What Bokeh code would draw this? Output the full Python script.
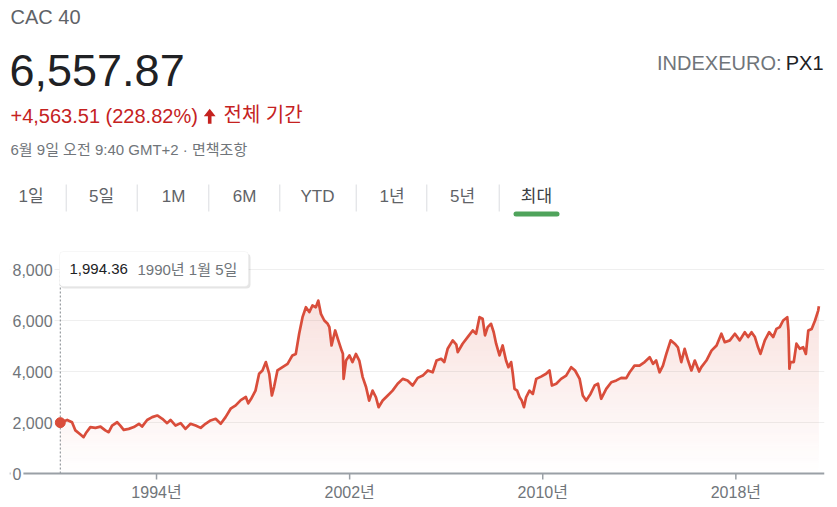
import numpy as np
import pandas as pd
from bokeh.plotting import figure
from bokeh.models import (Range1d, FixedTicker, Label, Span,
                          BoxAnnotation, PolyAnnotation, Grid)
from bokeh.embed import file_html
from bokeh.resources import INLINE

# ---------------- data ----------------
years = [1990.013, 1990.3, 1990.5, 1990.64, 1990.85, 1990.98, 1991.1, 1991.26, 1991.47,
         1991.68, 1991.88, 1992.02, 1992.16, 1992.37, 1992.5, 1992.64, 1992.85, 1993.06,
         1993.27, 1993.4, 1993.61, 1993.82, 1994.03, 1994.24, 1994.44, 1994.58, 1994.79,
         1995.0, 1995.2, 1995.41, 1995.62, 1995.83, 1996.03, 1996.24, 1996.45, 1996.66,
         1996.86, 1997.07, 1997.28, 1997.49, 1997.7, 1997.8, 1997.92,
         1998.1, 1998.25, 1998.39, 1998.53, 1998.67, 1998.78, 1998.87, 1999.01, 1999.22,
         1999.43, 1999.63, 1999.77, 1999.91, 2000.05, 2000.19, 2000.33, 2000.46, 2000.6,
         2000.7, 2000.81, 2000.95, 2001.09, 2001.16, 2001.25, 2001.4, 2001.53, 2001.67,
         2001.72, 2001.75, 2001.85, 2001.99, 2002.12, 2002.26, 2002.4, 2002.54, 2002.68,
         2002.81, 2002.95, 2003.09, 2003.2, 2003.37, 2003.58, 2003.78, 2003.99, 2004.2,
         2004.4, 2004.61, 2004.82, 2005.03, 2005.24, 2005.44, 2005.6, 2005.79, 2005.92,
         2006.06, 2006.27, 2006.42, 2006.48, 2006.68, 2006.89, 2007.1, 2007.24, 2007.38,
         2007.51, 2007.61, 2007.72, 2007.86, 2007.97, 2008.07, 2008.21, 2008.34, 2008.48,
         2008.58, 2008.69, 2008.76, 2008.83, 2008.94, 2009.04, 2009.13, 2009.22, 2009.31,
         2009.45, 2009.59, 2009.73, 2009.93, 2010.14, 2010.28, 2010.38, 2010.56, 2010.76,
         2010.97, 2011.18, 2011.34, 2011.53, 2011.66, 2011.8, 2011.98, 2012.15, 2012.29,
         2012.42, 2012.63, 2012.84, 2013.05, 2013.25, 2013.46, 2013.6, 2013.7, 2013.8,
         2014.01, 2014.22, 2014.43, 2014.57, 2014.7, 2014.84, 2014.98, 2015.12, 2015.3,
         2015.47, 2015.6, 2015.74, 2015.88, 2016.02, 2016.16, 2016.3, 2016.48, 2016.57,
         2016.78, 2016.99, 2017.2, 2017.4, 2017.54, 2017.75, 2017.96, 2018.16, 2018.37,
         2018.51, 2018.65, 2018.79, 2018.92, 2019.02, 2019.2, 2019.38, 2019.55, 2019.68,
         2019.82, 2019.96, 2020.13, 2020.18, 2020.22, 2020.26, 2020.4, 2020.51, 2020.65,
         2020.79, 2020.9, 2021.0, 2021.14, 2021.28, 2021.41, 2021.44]
closes = [1994.36, 2100, 2010, 1690, 1530, 1425, 1620, 1820, 1790,
          1840, 1690, 1620, 1880, 2010, 1880, 1710, 1750, 1820,
          1950, 1840, 2100, 2210, 2275, 2145, 1975, 2100, 1880,
          1975, 1750, 1950, 1880, 1790, 1950, 2080, 2145, 1950,
          2210, 2540, 2670, 2880, 3000, 2750, 2930,
          3250, 3910, 4040, 4370, 3910, 3060, 3390, 4040, 4170,
          4300, 4630, 4690, 5480, 6130, 6520, 6330, 6590, 6520,
          6780, 6260, 6000, 5870, 5740, 5020, 5610, 5220, 4820,
          4700, 3710, 4430, 4630, 4370, 4690, 4430, 3780, 3390,
          2860, 3250, 2990, 2600, 2860, 3060, 3250, 3520, 3710,
          3650, 3450, 3750, 3840, 4040, 3970, 4430, 4500, 4370,
          4890, 5220, 5050, 4760, 5090, 5350, 5610, 5480, 6130,
          6070, 5420, 5740, 5870, 5540, 5090, 4630, 5020, 4430,
          4170, 4370, 3910, 3320, 3250, 2990, 2860, 2600, 2990,
          3250, 3120, 3710, 3800, 3910, 4040, 3450, 3520, 3710,
          3840, 4170, 4040, 3710, 3060, 2860, 3120, 3450, 3520,
          2930, 3320, 3580, 3650, 3750, 3740, 3970, 4100, 4230,
          4230, 4370, 4560, 4300, 4430, 3970, 4230, 4690, 5220,
          5090, 4950, 4370, 4890, 4430, 4040, 4430, 4000, 4170,
          4430, 4820, 5020, 5480, 5150, 5220, 5480, 5220, 5540,
          5350, 5540, 5350, 4950, 4690, 5220, 5540, 5350, 5670,
          5740, 6000, 6130, 5610, 4110, 4370, 4370, 5090, 4890,
          4950, 4690, 5610, 5670, 6000, 6390, 6557.87]

xtick_years = [1994, 2002, 2010, 2018]
ytick_values = [0, 2000, 4000, 6000, 8000]
tab_labels = ["1일", "5일", "1M", "6M", "YTD", "1년", "5년", "최대"]
selected_tab = "최대"
title_text = "CAC 40"
exchange_text = "INDEXEURO:"
symbol_text = "PX1"
period_text = "전체 기간"
timestamp_text = "6월 9일 오전 9:40 GMT+2 · 면책조항"

# ---------------- styles / layout ----------------
FONT = "Liberation Sans, Noto Sans CJK KR"
LINE = "#d94d3b"
RED_TXT = "#c5221f"
GRAY = "#70757a"
DARK = "#202124"
AXIS = "#9aa0a6"
TAB_CENTERS = [30.5, 101, 173, 244, 317, 391.5, 462, 536]
SEP_X = [65.7, 136.7, 208.3, 279.3, 355.7, 426.3, 498.7]
W, H = 835, 505
FR_L, FR_R = 9, 824          # frame spans the whole canvas height
AXIS_Y = 473                 # canvas y of the value 0
PX_PER_YEAR, PX_PER_UNIT = 24.14, 0.0255
TICK0_X = 156                # canvas x of first x tick
TICK_PX = 6


def to_ms(y):
    yi = int(np.floor(y))
    a = pd.Timestamp(year=yi, month=1, day=1)
    b = pd.Timestamp(year=yi + 1, month=1, day=1)
    return (a + (b - a) * (y - yi)).value / 1e6


xs = [to_ms(y) for y in years]
vals = np.array(closes, dtype=float)
tick_ms = [to_ms(y) for y in xtick_years]

x0 = xtick_years[0] - (TICK0_X - FR_L) / PX_PER_YEAR
x1 = xtick_years[0] + (FR_R - TICK0_X) / PX_PER_YEAR
p = figure(width=W, height=H,
           min_border_left=FR_L, min_border_right=W - FR_R,
           min_border_top=0, min_border_bottom=0,
           x_axis_location=None, y_axis_location=None,
           x_range=Range1d(to_ms(x0), to_ms(x1)),
           y_range=Range1d(-(H - AXIS_Y) / PX_PER_UNIT, AXIS_Y / PX_PER_UNIT),
           output_backend="svg", toolbar_location=None,
           background_fill_color="white", border_fill_color="white")
p.outline_line_color = None
for g in list(p.grid):
    g.visible = False

p.add_layout(Grid(dimension=1, ticker=FixedTicker(ticks=ytick_values[1:]),
                  grid_line_color="#efefef", grid_line_width=1))

# gradient area: non-overlapping bands, opacity growing with height
step = 100
for lo in np.arange(0, 7600, step):
    a = 0.17 * (lo + step / 2) / 6800
    p.varea(x=xs, y1=np.minimum(vals, lo), y2=np.minimum(vals, lo + step),
            fill_color=LINE, fill_alpha=a)

# dotted hover line
p.segment(x0=[xs[0]], y0=[ytick_values[0]], x1=[xs[0]], y1=[ytick_values[-1]],
          line_color="#80868b", line_dash="2 2", line_width=1)

# x axis ticks
p.segment(x0=tick_ms, y0=[0] * len(tick_ms), x1=tick_ms,
          y1=[-TICK_PX / PX_PER_UNIT] * len(tick_ms), line_color=AXIS, line_width=1.5)

p.line(xs, vals, line_color=LINE, line_width=2.7, line_join="round")
p.scatter([xs[0]], [vals[0]], size=10, fill_color=LINE, line_color=LINE)

# x axis baseline
p.add_layout(Span(location=0, dimension="width", line_color=AXIS, line_width=2))

for t, y in zip(tick_ms, xtick_years):
    p.add_layout(Label(x=t, y=491.7, x_units="data", y_units="canvas", text=f"{y}년",
                       text_font=FONT, text_font_size="16px", text_color=GRAY,
                       text_align="center", text_baseline="middle"))

# y tick labels (left aligned, white background hides the axis start)
for v in ytick_values:
    p.add_layout(Label(x=10, y=v, x_units="canvas", y_units="data",
                       text=f"{v:,}", text_font=FONT, text_font_size="16px",
                       text_color=GRAY, text_align="left", text_baseline="middle",
                       background_fill_color="white", padding=2))


def lab(text, x, y, size, color, align="left", level="annotation"):
    p.add_layout(Label(x=x, y=y, x_units="canvas", y_units="canvas",
                       text=text, text_font=FONT, text_font_size=f"{size}px",
                       text_color=color, text_align=align, text_baseline="middle",
                       level=level))


def box(l, r, t, b, color, alpha=1.0, line=None, radius=0):
    p.add_layout(BoxAnnotation(left=l, right=r, top=t, bottom=b,
                               left_units="canvas", right_units="canvas",
                               top_units="canvas", bottom_units="canvas",
                               fill_color=color, fill_alpha=alpha,
                               line_color=line, line_width=1, border_radius=radius,
                               level="overlay"))


# header
lab(title_text, 10, 16, 20, "#5f6368")
lab(f"{closes[-1]:,.2f}", 9, 70, 45, DARK)
chg = closes[-1] - closes[0]
lab(f"+{chg:,.2f} ({chg / closes[0] * 100:.2f}%)", 10, 115, 20, RED_TXT)
arrow_x = [203.3, 209.2, 215.1, 211.0, 211.0, 207.4, 207.4]
arrow_y = [115.7, 108.3, 115.7, 115.7, 123.2, 123.2, 115.7]
p.add_layout(PolyAnnotation(xs=arrow_x, ys=arrow_y, xs_units="canvas", ys_units="canvas",
                            fill_color=RED_TXT, fill_alpha=1, line_color=None))
lab(period_text, 223, 114.5, 20, RED_TXT)
lab(timestamp_text, 10, 149.2, 15, GRAY)
lab(exchange_text, 781, 62.5, 20, GRAY, align="right")
lab(symbol_text, 823, 62.5, 20, DARK, align="right")

# tabs
for name, cx in zip(tab_labels, TAB_CENTERS):
    lab(name, cx, 195.5, 17, "#3c4043" if name == selected_tab else "#5f6368", align="center")
for sx in SEP_X:
    box(sx - 0.5, sx + 0.5, 184, 211, "#dadce0")
sel = TAB_CENTERS[tab_labels.index(selected_tab)]
box(sel - 23, sel + 23, 211, 216, "#4fa35b", radius=3)

# tooltip
box(60, 250, 253, 288, "#000000", alpha=0.10, radius=4)
box(59, 248, 251, 286, "#ffffff", line="#e6e6e6", radius=4)
d0 = pd.Timestamp(xs[0], unit="ms")
lab(f"{closes[0]:,.2f}", 69, 268.8, 15, DARK, level="overlay")
lab(f"{d0.year}년 {d0.month}월 {d0.day}일", 137, 268.8, 15, GRAY, level="overlay")

open("out.html", "w").write(file_html(p, INLINE))
